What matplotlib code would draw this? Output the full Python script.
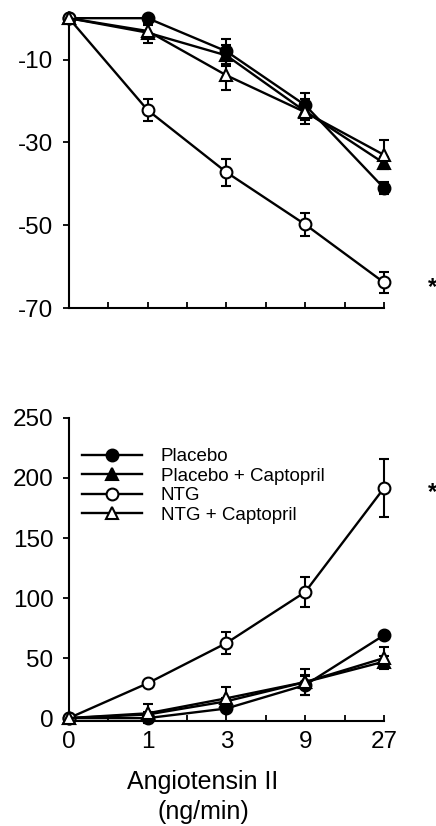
import numpy as np
import matplotlib
matplotlib.use('Agg')
import matplotlib.pyplot as plt
from matplotlib.lines import Line2D

plt.rcParams['font.family'] = ['Liberation Sans', 'DejaVu Sans']
plt.rcParams['axes.unicode_minus'] = False

# Angiotensin II doses (ng/min), plotted at equal spacing
doses = ['0', '1', '3', '9', '27']
labels = ['Placebo', 'Placebo + Captopril', 'NTG', 'NTG + Captopril']

# top panel: change (negative)
top_placebo = [0, 0, -8, -21, -41]
top_placebo_err = [0, 0, 3, 3, 1.5]
top_plcap = [0, -3.5, -9, -22.5, -35]
top_plcap_err = [0, 2.4, 2.5, 3, 1.5]
top_ntg = [0, -22.2, -37.2, -49.8, -63.8]
top_ntg_err = [0, 2.7, 3.3, 2.8, 2.5]
top_ntgcap = [0, -3.1, -13.8, -22.7, -33]
top_ntgcap_err = [0, 1.5, 3.5, 2, 3.5]

# bottom panel: change (positive)
bot_placebo = [0, 0, 8, 27.5, 69]
bot_placebo_err = [0, 0, 2, 8, 2]
bot_plcap = [0, 3, 14, 30, 47]
bot_plcap_err = [0, 2, 3, 5, 5]
bot_ntg = [0, 29, 62.5, 105, 191.5]
bot_ntg_err = [0, 2, 9, 12.5, 24]
bot_ntgcap = [0, 4, 16.5, 30, 50]
bot_ntgcap_err = [0, 8, 9, 11, 9]

styles = [dict(marker='o', mfc='black'),
          dict(marker='^', mfc='black'),
          dict(marker='o', mfc='white'),
          dict(marker='^', mfc='white')]

fig = plt.figure(figsize=(4.36, 8.26), dpi=100)
ax1 = fig.add_axes([0.158, 0.627, 0.7225, 0.351])
ax2 = fig.add_axes([0.158, 0.127, 0.7225, 0.367])

x = np.arange(len(doses))


def draw(ax, series, errs):
    for ys, es, st in zip(series, errs, styles):
        ax.errorbar(x, ys, yerr=es, color='black', lw=1.7, ms=8.5,
                    mec='black', mew=1.5, capsize=3.5, capthick=1.5,
                    elinewidth=1.5, clip_on=False, zorder=3, **st)
    for s in ['top', 'right']:
        ax.spines[s].set_visible(False)
    for s in ['left', 'bottom']:
        ax.spines[s].set_linewidth(1.5)
    ax.set_xlim(0, 4)
    ax.set_xticks(x)
    ax.set_xticks([0.5, 1.5, 2.5, 3.5], minor=True)
    ax.tick_params(axis='x', which='both', direction='in', length=4, width=1.3, pad=7, labelsize=17.5)
    ax.tick_params(axis='y', direction='out', length=4, width=1.3, pad=7, labelsize=17.5)


draw(ax1, [top_placebo, top_plcap, top_ntg, top_ntgcap],
     [top_placebo_err, top_plcap_err, top_ntg_err, top_ntgcap_err])
ax1.set_ylim(-70, 0)
ax1.set_yticks([-10, -30, -50, -70])
ax1.set_xticklabels([])

draw(ax2, [bot_placebo, bot_plcap, bot_ntg, bot_ntgcap],
     [bot_placebo_err, bot_plcap_err, bot_ntg_err, bot_ntgcap_err])
ax2.set_ylim(-2.5, 250)
ax2.set_yticks([0, 50, 100, 150, 200, 250])
ax2.set_xticklabels(doses)

handles = [Line2D([], [], color='black', lw=1.7, ms=8.5, mec='black', mew=1.5, **st)
           for st in styles]
ax2.legend(handles, labels, loc='upper left', bbox_to_anchor=(0.041, 0.9), frameon=False,
           fontsize=13.5, handlelength=3.2, handletextpad=1.0, labelspacing=0.12,
           borderpad=0, borderaxespad=0)

fig.text(203 / 436, 1 - 782 / 826, 'Angiotensin II', ha='center', va='center', fontsize=18)
fig.text(203 / 436, 1 - 812 / 826, '(ng/min)', ha='center', va='center', fontsize=18)

fig.text(428 / 436, 1 - 288 / 826, '*', ha='left', va='center', fontsize=17, fontweight='bold')
fig.text(428 / 436, 1 - 493 / 826, '*', ha='left', va='center', fontsize=17, fontweight='bold')

fig.savefig('out.png', dpi=100)
